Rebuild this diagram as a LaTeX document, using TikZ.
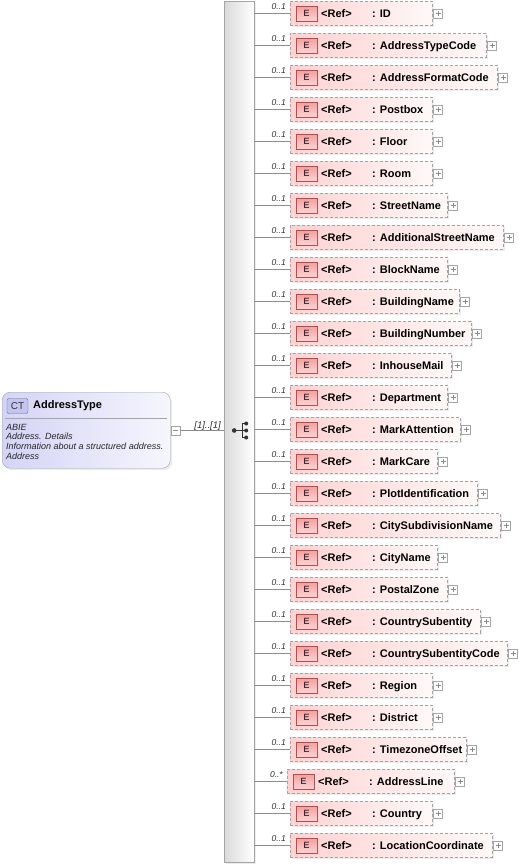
\documentclass[tikz,border=0pt]{standalone}
\usepackage{fontspec}
\setmainfont{Liberation Sans}
\usetikzlibrary{positioning,calc,shadows}

\definecolor{linegray}{RGB}{140,140,140}
\definecolor{boxgray}{RGB}{165,165,165}
\definecolor{elempink}{RGB}{255,210,210}
\definecolor{elemlight}{RGB}{255,248,248}
\definecolor{badgeborder}{RGB}{185,75,75}
\definecolor{badgefill}{RGB}{242,160,160}
\definecolor{badgelight}{RGB}{252,212,212}
\definecolor{ctfill}{RGB}{212,212,246}
\definecolor{ctlight}{RGB}{246,246,254}
\definecolor{ctbadgefill}{RGB}{196,196,240}
\definecolor{ctborder}{RGB}{105,105,150}
\definecolor{bargray}{RGB}{218,218,218}

\tikzset{
  conn/.style={draw=linegray, line width=0.7pt},
  seqbar/.style={draw=boxgray, left color=bargray, right color=white, inner sep=0pt,
    drop shadow={shadow xshift=2pt, shadow yshift=-2pt, fill=black!15}},
  ctbox/.style={draw=boxgray, rounded corners=8pt, left color=ctfill, right color=ctlight,
    inner sep=0pt, drop shadow={shadow xshift=2pt, shadow yshift=-2pt, fill=black!15}},
  ctbadge/.style={draw=ctborder, fill=ctbadgefill, rounded corners=2pt, minimum width=21pt,
    minimum height=15pt, inner sep=0pt, font=\fontsize{10}{12}\selectfont, text=black!80},
  ctnote/.style={anchor=base west, inner sep=0pt, font=\itshape\fontsize{9}{10}\selectfont, text=black!85},
  elembox/.style={draw=boxgray, dash pattern=on 3pt off 2pt, left color=elempink, right color=elemlight,
    minimum height=24pt, inner sep=0pt, anchor=west,
    drop shadow={shadow xshift=1.5pt, shadow yshift=-1.5pt, fill=black!15}},
  ebadge/.style={draw=badgeborder, top color=badgefill, bottom color=badgelight, minimum width=21pt,
    minimum height=15pt, inner sep=0pt, font=\fontsize{9}{11}\selectfont},
  elemtext/.style={anchor=base west, inner sep=0pt, font=\bfseries\fontsize{11}{13}\selectfont},
  multlabel/.style={anchor=base east, inner sep=0pt, font=\itshape\fontsize{8.5}{10}\selectfont, text=black!80},
  plusbox/.style={draw=boxgray, fill=white, minimum size=9pt, inner sep=0pt, anchor=west,
    path picture={
      \draw[linegray] ([xshift=-2.5pt]path picture bounding box.center) -- ([xshift=2.5pt]path picture bounding box.center);
      \draw[linegray] ([yshift=-2.5pt]path picture bounding box.center) -- ([yshift=2.5pt]path picture bounding box.center);}},
  minusbox/.style={draw=boxgray, fill=white, minimum size=9pt, inner sep=0pt,
    path picture={
      \draw[linegray] ([xshift=-2.5pt]path picture bounding box.center) -- ([xshift=2.5pt]path picture bounding box.center);}},
  seqicon/.style={draw=black!80, line width=0.9pt}
}

\begin{document}
\begin{tikzpicture}[x=1pt, y=-1pt]
  \useasboundingbox (0,0) rectangle (519,865);

  % sequence compositor
  \node[seqbar, anchor=north west, minimum width=30pt, minimum height=861pt] (bar) at (224,1) {};

  % complex type
  \node[ctbox, anchor=north west, minimum width=168pt, minimum height=76pt] (ct) at (2,392) {};
  \node[ctbadge] (ctbadge) at (17.5,406) {CT};
  \node[elemtext] (cttitle) at (33,408.5) {AddressType};
  \draw[boxgray] (5,418) -- (167,418); % separator
  \node[ctnote] (ctabie) at (6,430) {ABIE};
  \node[ctnote] (ctden) at (6,439.7) {Address. Details};
  \node[ctnote] (ctdef) at (6,449.4) {Information about a structured address.};
  \node[ctnote] (ctterm) at (6,459.1) {Address};

  \node[minusbox] (ctminus) at (175.5,430.5) {};
  \draw[conn] (ctminus.east) -- (bar.west |- ctminus.east);
  \node[multlabel, font=\itshape\fontsize{9.5}{11}\selectfont] (ctmult) at (221,428) {[1]..[1]};

  % sequence symbol
  \coordinate (seq) at (bar.center |- ctminus.east);
  \draw[seqicon] ($(seq)+(-5,0)$) -- ($(seq)+(3,0)$);
  \fill[black!80] ($(seq)+(-5,0)$) circle (2.3);
  \draw[seqicon] ($(seq)+(3,-7)$) -- ($(seq)+(3,7)$);
  \foreach \dy in {-7,0,7} {
    \draw[seqicon] ($(seq)+(3,\dy)$) -- ($(seq)+(7,\dy)$);
    \fill[black!80] ($(seq)+(7,\dy)$) circle (2);
  }

  % elements
  \foreach \n/\w/\m/\bx [count=\i from 0] in {ID/142/0..1/290, AddressTypeCode/196/0..1/290,
      AddressFormatCode/207/0..1/290, Postbox/142/0..1/290, Floor/142/0..1/290, Room/142/0..1/290,
      StreetName/157/0..1/290, AdditionalStreetName/213/0..1/290, BlockName/157/0..1/290,
      BuildingName/169/0..1/290, BuildingNumber/181/0..1/290, InhouseMail/161/0..1/290,
      Department/157/0..1/290, MarkAttention/170/0..1/290, MarkCare/147/0..1/290,
      PlotIdentification/187/0..1/290, CitySubdivisionName/210/0..1/290, CityName/147/0..1/290,
      PostalZone/157/0..1/290, CountrySubentity/190/0..1/290, CountrySubentityCode/217/0..1/290,
      Region/142/0..1/290, District/142/0..1/290, TimezoneOffset/176/0..1/290,
      AddressLine/167/0..*/287, Country/142/0..1/290, LocationCoordinate/202/0..1/290} {
    \node[elembox, minimum width=\w pt] (e\i) at (\bx, 13+32*\i) {};
    \node[ebadge] (b\i) at ($(e\i.west)+(16.5,0.5)$) {E};
    \node[elemtext] (r\i) at ($(e\i.west)+(31,4)$) {<Ref>};
    \node[elemtext] (n\i) at ($(e\i.west)+(82,4)$) {: \n};
    \node[plusbox] (p\i) at ($(e\i.east)+(1,0.5)$) {};
    \draw[conn] (bar.east |- e\i.west) -- (e\i.west);
    \node[multlabel] (m\i) at ($(e\i.west)+(-4,-4)$) {\m};
  }
\end{tikzpicture}
\end{document}
